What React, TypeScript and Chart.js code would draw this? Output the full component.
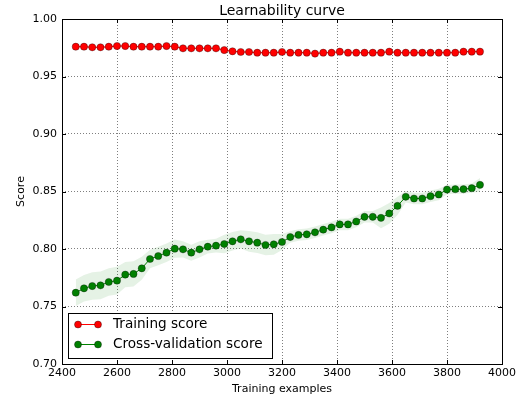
import React, { useEffect, useRef } from "react";
import { Chart, registerables } from "chart.js";

Chart.register(...registerables);

const trainSizes = [
  2450, 2480, 2510, 2540, 2570, 2600, 2630, 2660, 2690, 2720,
  2750, 2780, 2810, 2840, 2870, 2900, 2930, 2960, 2990, 3020,
  3050, 3080, 3110, 3140, 3170, 3200, 3230, 3260, 3290, 3320,
  3350, 3380, 3410, 3440, 3470, 3500, 3530, 3560, 3590, 3620,
  3650, 3680, 3710, 3740, 3770, 3800, 3830, 3860, 3890, 3920,
];

const trainScores = [
  0.9759, 0.9759, 0.9754, 0.9754, 0.9759, 0.9765, 0.9765, 0.9759, 0.9759, 0.9759,
  0.9759, 0.9765, 0.9759, 0.9745, 0.9745, 0.9745, 0.9745, 0.9745, 0.973, 0.9719,
  0.9713, 0.9713, 0.9707, 0.9707, 0.9707, 0.9713, 0.9707, 0.9707, 0.9707, 0.9699,
  0.9707, 0.9707, 0.9716, 0.9707, 0.9707, 0.9707, 0.9707, 0.9707, 0.9716, 0.9707,
  0.9707, 0.9707, 0.9707, 0.9707, 0.9707, 0.9707, 0.9707, 0.9716, 0.9716, 0.9716,
];

const trainStd = [
  0.001, 0.001, 0.001, 0.001, 0.001, 0.001, 0.001, 0.001, 0.001, 0.001,
  0.001, 0.001, 0.001, 0.001, 0.001, 0.001, 0.001, 0.001, 0.001, 0.001,
  0.001, 0.001, 0.001, 0.001, 0.001, 0.001, 0.001, 0.001, 0.001, 0.001,
  0.001, 0.001, 0.001, 0.001, 0.001, 0.001, 0.001, 0.001, 0.001, 0.001,
  0.001, 0.001, 0.001, 0.001, 0.001, 0.001, 0.001, 0.001, 0.001, 0.001,
];

const cvScores = [
  0.762, 0.7658, 0.7678, 0.7684, 0.7713, 0.7725, 0.7777, 0.7783, 0.7832, 0.7913,
  0.7939, 0.7968, 0.8003, 0.7997, 0.7968, 0.7997, 0.802, 0.8029, 0.8043, 0.8067,
  0.8084, 0.8067, 0.8055, 0.8035, 0.8041, 0.8061, 0.8104, 0.8122, 0.8128, 0.8145,
  0.8168, 0.8188, 0.8214, 0.8214, 0.8239, 0.828, 0.828, 0.8271, 0.8309, 0.8375,
  0.8454, 0.8439, 0.8439, 0.8459, 0.8474, 0.8517, 0.852, 0.852, 0.8529, 0.8558,
];

const cvStd = [
  0.0115, 0.0115, 0.012, 0.012, 0.012, 0.012, 0.011, 0.011, 0.010, 0.008,
  0.008, 0.008, 0.008, 0.007, 0.007, 0.007, 0.006, 0.006, 0.008, 0.008,
  0.008, 0.009, 0.009, 0.009, 0.009, 0.007, 0.005, 0.005, 0.005, 0.005,
  0.005, 0.005, 0.005, 0.005, 0.005, 0.005, 0.005, 0.009, 0.009, 0.008,
  0.005, 0.005, 0.005, 0.005, 0.005, 0.004, 0.004, 0.004, 0.004, 0.006,
];

const xTicks = [2400, 2600, 2800, 3000, 3200, 3400, 3600, 3800, 4000];
const yTicks = [0.7, 0.75, 0.8, 0.85, 0.9, 0.95, 1.0];
const seriesLabels = ["Training score", "Cross-validation score"];
const titleText = "Learnability curve";
const xTitle = "Training examples";
const yTitle = "Score";

const FONT = "'DejaVu Sans', sans-serif";
const RED = "#ff0000";
const GREEN = "#008000";

export default function App() {
  const ref = useRef<HTMLCanvasElement>(null);

  useEffect(() => {
    document.body.style.margin = "0";
    const canvas = ref.current;
    if (!canvas) return;

    const pts = (ys: number[]) => trainSizes.map((x, i) => ({ x, y: ys[i] }));
    const band = (m: number[], s: number[], sign: number) =>
      trainSizes.map((x, i) => ({ x, y: m[i] + sign * s[i] }));

    const decor = {
      id: "decor",
      afterDraw(chart: any) {
        const ctx = chart.ctx;
        const a = chart.chartArea;
        const xs = chart.scales.x;
        const ys = chart.scales.y;
        ctx.save();
        // inward ticks
        ctx.strokeStyle = "#000";
        ctx.lineWidth = 1;
        ctx.beginPath();
        xTicks.forEach((v) => {
          const px = Math.round(xs.getPixelForValue(v)) + 0.5;
          ctx.moveTo(px, a.bottom);
          ctx.lineTo(px, a.bottom - 4);
          ctx.moveTo(px, a.top);
          ctx.lineTo(px, a.top + 4);
        });
        yTicks.forEach((v) => {
          const py = Math.round(ys.getPixelForValue(v)) + 0.5;
          ctx.moveTo(a.left, py);
          ctx.lineTo(a.left + 4, py);
          ctx.moveTo(a.right, py);
          ctx.lineTo(a.right - 4, py);
        });
        ctx.stroke();
        // frame
        ctx.strokeRect(
          Math.round(a.left) + 0.5,
          Math.round(a.top) + 0.5,
          Math.round(a.right - a.left),
          Math.round(a.bottom - a.top)
        );
        // title
        ctx.fillStyle = "#000";
        ctx.textAlign = "center";
        ctx.textBaseline = "middle";
        ctx.font = `14px ${FONT}`;
        ctx.fillText(titleText, (a.left + a.right) / 2, a.top - 8);
        // axis titles
        ctx.font = `11px ${FONT}`;
        ctx.fillText(xTitle, (a.left + a.right) / 2, a.bottom + 25);
        ctx.save();
        ctx.translate(a.left - 41, (a.top + a.bottom) / 2);
        ctx.rotate(-Math.PI / 2);
        ctx.fillText(yTitle, 0, 0);
        ctx.restore();
        // legend
        const lx = a.left + 6;
        const lw = 204;
        const lh = 45;
        const lyTop = a.bottom - 6 - lh;
        ctx.fillStyle = "#fff";
        ctx.fillRect(lx, lyTop, lw, lh);
        ctx.strokeStyle = "#000";
        ctx.lineWidth = 1;
        ctx.strokeRect(Math.round(lx) + 0.5, Math.round(lyTop) + 0.5, lw, lh);
        const colors = [RED, GREEN];
        seriesLabels.forEach((lab, i) => {
          const cy = lyTop + 11.5 + i * 20;
          const x1 = lx + 10;
          const x2 = lx + 30;
          ctx.strokeStyle = colors[i];
          ctx.lineWidth = 1;
          ctx.beginPath();
          ctx.moveTo(x1, cy);
          ctx.lineTo(x2, cy);
          ctx.stroke();
          [x1, x2].forEach((mx) => {
            ctx.beginPath();
            ctx.arc(mx, cy, 3.5, 0, Math.PI * 2);
            ctx.fillStyle = colors[i];
            ctx.fill();
            ctx.strokeStyle = "rgba(0,0,0,0.6)";
            ctx.lineWidth = 0.6;
            ctx.stroke();
          });
          ctx.fillStyle = "#000";
          ctx.textAlign = "left";
          ctx.textBaseline = "middle";
          ctx.font = `13.6px ${FONT}`;
          ctx.fillText(lab, lx + 45, cy);
        });
        ctx.restore();
      },
    };

    const chart = new Chart(canvas, {
      type: "line",
      data: {
        datasets: [
          {
            label: seriesLabels[0],
            data: pts(trainScores),
            borderColor: RED,
            backgroundColor: RED,
            borderWidth: 1,
            pointRadius: 3.6,
            pointBackgroundColor: RED,
            pointBorderColor: "rgba(0,0,0,0.55)",
            pointBorderWidth: 0.6,
            fill: false,
            tension: 0,
          },
          {
            label: seriesLabels[1],
            data: pts(cvScores),
            borderColor: GREEN,
            backgroundColor: GREEN,
            borderWidth: 1,
            pointRadius: 3.6,
            pointBackgroundColor: GREEN,
            pointBorderColor: "rgba(0,0,0,0.55)",
            pointBorderWidth: 0.6,
            fill: false,
            tension: 0,
          },
          {
            label: "train-upper",
            data: band(trainScores, trainStd, 1),
            borderWidth: 0,
            pointRadius: 0,
            borderColor: "rgba(0,0,0,0)",
            fill: false,
          },
          {
            label: "train-lower",
            data: band(trainScores, trainStd, -1),
            borderWidth: 0,
            pointRadius: 0,
            borderColor: "rgba(0,0,0,0)",
            backgroundColor: "rgba(255,0,0,0.1)",
            fill: 2,
          },
          {
            label: "cv-upper",
            data: band(cvScores, cvStd, 1),
            borderWidth: 0,
            pointRadius: 0,
            borderColor: "rgba(0,0,0,0)",
            fill: false,
          },
          {
            label: "cv-lower",
            data: band(cvScores, cvStd, -1),
            borderWidth: 0,
            pointRadius: 0,
            borderColor: "rgba(0,0,0,0)",
            backgroundColor: "rgba(0,128,0,0.1)",
            fill: 4,
          },
        ],
      },
      options: {
        animation: false,
        responsive: false,
        maintainAspectRatio: false,
        layout: { padding: { left: 0, right: 19, top: 19, bottom: 0 } },
        plugins: {
          legend: { display: false },
          title: { display: false },
          tooltip: { enabled: false },
        },
        scales: {
          x: {
            type: "linear",
            min: 2400,
            max: 4000,
            afterBuildTicks: (s: any) => {
              s.ticks = xTicks.map((v) => ({ value: v }));
            },
            afterFit: (s: any) => {
              s.height = 37;
            },
            ticks: {
              color: "#000",
              font: { family: FONT, size: 11 },
              padding: 3,
              maxRotation: 0,
              autoSkip: false,
              callback: (v: any) => String(v),
            },
            grid: {
              color: "rgba(0,0,0,0.5)",
              lineWidth: 1,
              drawTicks: false,
            },
            border: { display: false, dash: [1, 2] },
          },
          y: {
            min: 0.7,
            max: 1.0,
            afterBuildTicks: (s: any) => {
              s.ticks = yTicks.map((v) => ({ value: v }));
            },
            afterFit: (s: any) => {
              s.width = 62;
            },
            ticks: {
              color: "#000",
              font: { family: FONT, size: 11 },
              padding: 5,
              autoSkip: false,
              callback: (v: any) => Number(v).toFixed(2),
            },
            grid: {
              color: "rgba(0,0,0,0.5)",
              lineWidth: 1,
              drawTicks: false,
            },
            border: { display: false, dash: [1, 2] },
          },
        },
      },
      plugins: [decor],
    } as any);

    return () => chart.destroy();
  }, []);

  return (
    <div style={{ width: 521, height: 401, background: "#fff" }}>
      <canvas ref={ref} width={521} height={401} style={{ display: "block" }} />
    </div>
  );
}
